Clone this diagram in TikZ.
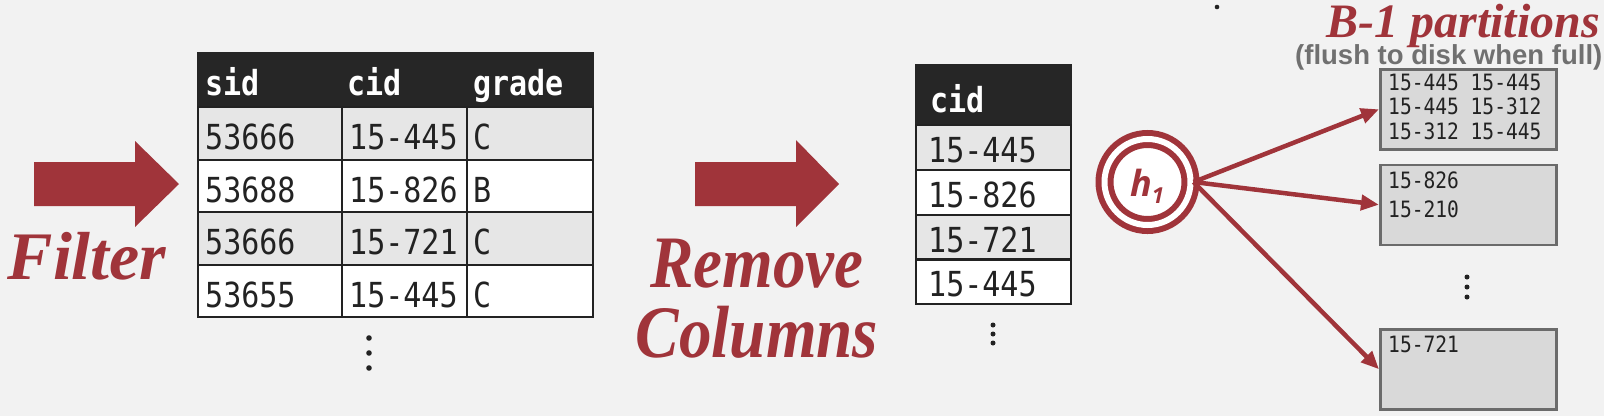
\documentclass[tikz,border=0pt]{standalone}
\usepackage{fontspec}
\usetikzlibrary{arrows.meta}
\newfontfamily\tabfont{DejaVu Sans Mono}[FakeStretch=0.87]
\newfontfamily\redfont{Liberation Serif}[FakeStretch=0.88]
\newfontfamily\redwide{Liberation Serif}
\newfontfamily\hfont{Open Sans}
\newfontfamily\grayfont{Liberation Sans}
\definecolor{dbred}{RGB}{160,52,58}
\definecolor{bg}{RGB}{242,242,242}
\definecolor{hdr}{RGB}{38,38,38}
\definecolor{shade}{RGB}{230,230,230}
\definecolor{pfill}{RGB}{217,217,217}
\definecolor{pline}{RGB}{107,107,107}
\definecolor{note}{RGB}{112,112,112}
\definecolor{ink}{RGB}{34,34,34}
\tikzset{
  cell/.style={draw=ink,line width=2.4pt,inner sep=0pt,anchor=north west},
  hcell/.style={draw=hdr,fill=hdr,line width=2.4pt,inner sep=0pt,anchor=north west},
  ctxt/.style={anchor=base west,inner sep=0pt,text=ink,font=\tabfont\fontsize{34.5}{34.5}\selectfont},
  chtxt/.style={anchor=base west,inner sep=0pt,text=white,font=\tabfont\bfseries\fontsize{34.5}{34.5}\selectfont},
  ptxt/.style={anchor=base west,inner sep=0pt,text=ink,font=\tabfont\fontsize{22.5}{22.5}\selectfont},
  redtxt/.style={inner sep=0pt,text=dbred,font=\redfont\bfseries\itshape\fontsize{74}{74}\selectfont},
  part/.style={draw=pline,fill=pfill,line width=2.5pt,inner sep=0pt,anchor=north west,minimum width=176,minimum height=80},
  hcirc/.style={circle,draw=dbred,double=white,double distance=6pt,line width=6pt,fill=white,minimum size=86,inner sep=0pt},
  conn/.style={draw=dbred,line width=4.5pt,-{Triangle[length=18pt,width=15pt]}},
  blockarrow/.style={fill=dbred},
  dot/.style={fill=ink},
}
\begin{document}
\begin{tikzpicture}[x=1pt,y=-1pt]
\useasboundingbox (0,0) rectangle (1604,416);
\fill[bg] (0,0) rectangle (1604,416);

% ---- Filter arrow and label
\fill[blockarrow] (34,162) -- (135,162) -- (135,141) -- (179,184) -- (135,227) -- (135,206) -- (34,206) -- cycle;
\node[redtxt,anchor=base,font=\redwide\bfseries\itshape\fontsize{68}{68}\selectfont] (filter) at (87,279) {Filter};

% ---- first table
\node[hcell,minimum width=395,minimum height=54] (t1h) at (197,52) {};
\node[chtxt] (t1hs) at ([shift={(8,-13)}]t1h.south west) {sid};
\node[chtxt] (t1hc) at ([shift={(150,-13)}]t1h.south west) {cid};
\node[chtxt] (t1hg) at ([shift={(276,-13)}]t1h.south west) {grade};
\foreach \y/\f/\a/\b/\c [count=\i] in {106/shade/53666/15-445/C, 158.5/white/53688/15-826/B, 211/shade/53666/15-721/C, 263.5/white/53655/15-445/C}{
  \node[cell,fill=\f,minimum width=144,minimum height=52.5] (r\i-a) at (197,\y) {};
  \node[cell,fill=\f,minimum width=125,minimum height=52.5] (r\i-b) at (341,\y) {};
  \node[cell,fill=\f,minimum width=126,minimum height=52.5] (r\i-c) at (466,\y) {};
  \node[ctxt] at ([shift={(8,-11)}]r\i-a.south west) {\a};
  \node[ctxt] at ([shift={(8,-11)}]r\i-b.south west) {\b};
  \node[ctxt] at ([shift={(7,-11)}]r\i-c.south west) {\c};
}
\foreach \yy in {338,353,368}{\fill[dot] (369,\yy) circle (2.8);}

% ---- Remove Columns arrow and label
\fill[blockarrow] (695,162) -- (796,162) -- (796,140) -- (839,184) -- (796,227) -- (796,206) -- (695,206) -- cycle;
\node[redtxt,anchor=base] (remove) at (757,287) {Remove};
\node[redtxt,anchor=base] (columns) at (757,357) {Columns};

% ---- second table
\node[hcell,minimum width=155,minimum height=60] (t2h) at (915,64) {};
\node[chtxt] (t2hc) at ([shift={(15,-14)}]t2h.south west) {cid};
\foreach \y/\f/\a [count=\i] in {124/shade/15-445, 168.75/white/15-826, 213.5/shade/15-721, 258.25/white/15-445}{
  \node[cell,fill=\f,minimum width=155,minimum height=44.75] (s\i) at (915,\y) {};
  \node[ctxt] at ([shift={(13,-8.5)}]s\i.south west) {\a};
}
\foreach \yy in {325,334,343}{\fill[dot] (993,\yy) circle (2.5);}

% ---- hash function
\node[hcirc] (h) at (1147.5,182) {};
\node[inner sep=0pt,anchor=base west,text=dbred,font=\hfont\bfseries\itshape\fontsize{36}{36}\selectfont] (hlab) at (1130,196) {h\raisebox{-7pt}{\fontsize{22}{22}\selectfont 1}};

% ---- partitions
\node[part] (p1) at (1379,68) {};
\node[part] (p2) at (1379,163.5) {};
\node[part] (p3) at (1379,328) {};
\node[ptxt] at ([shift={(9,22)}]p1.north west) {15-445 15-445};
\node[ptxt] at ([shift={(9,46)}]p1.north west) {15-445 15-312};
\node[ptxt] at ([shift={(9,71)}]p1.north west) {15-312 15-445};
\node[ptxt] at ([shift={(9,25)}]p2.north west) {15-826};
\node[ptxt] at ([shift={(9,54)}]p2.north west) {15-210};
\node[ptxt] at ([shift={(9,24)}]p3.north west) {15-721};
\foreach \yy in {277,287,297}{\fill[dot] (1467,\yy) circle (2.5);}
\fill[dot] (1217,7) circle (2.3);

\draw[conn] (h.east) -- (p1.west);
\draw[conn] (h.east) -- (p2.west);
\draw[conn] (h.east) -- (p3.west);

% ---- titles
\node[anchor=base west,inner sep=0pt,text=note,font=\grayfont\bfseries\fontsize{27.5}{27.5}\selectfont] (flush) at (1295,64) {(flush to disk when full)};
\node[inner sep=0pt,text=dbred,anchor=base east,font=\redwide\bfseries\itshape\fontsize{48}{48}\selectfont] (btitle) at (1600,37) {B-1 partitions};
\end{tikzpicture}
\end{document}
